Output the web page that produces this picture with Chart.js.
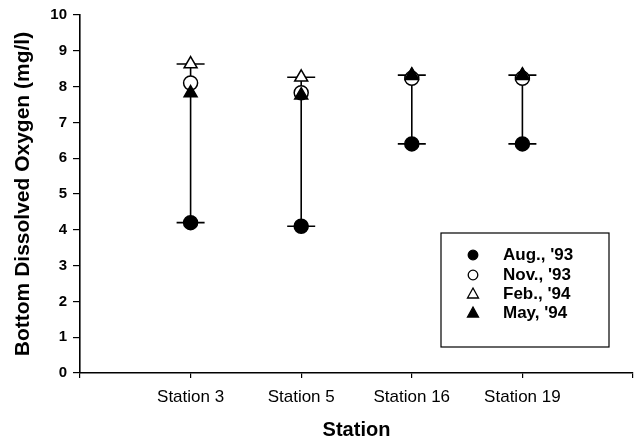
<!DOCTYPE html>
<html>
<head>
<meta charset="utf-8">
<script src="https://cdn.jsdelivr.net/npm/chart.js@4"></script>
<style>
html,body{margin:0;padding:0;background:#fff;}
#wrap{width:644px;height:442px;position:relative;}
</style>
</head>
<body>
<div id="wrap"><canvas id="c" width="644" height="442"></canvas></div>
<script>
const stations = ['', 'Station 3', 'Station 5', 'Station 16', 'Station 19', ''];
const seriesNames = ["Aug., '93", "Nov., '93", "Feb., '94", "May, '94"];
const aug93 = [null, 4.2, 4.1, 6.4, 6.4, null];
const nov93 = [null, 8.1, 7.83, 8.23, 8.23, null];
const feb94 = [null, 8.63, 8.26, 8.32, 8.32, null];
const may94 = [null, 7.82, 7.76, 8.3, 8.3, null];
const yTicks = [0, 1, 2, 3, 4, 5, 6, 7, 8, 9, 10];

const FONT = "'Liberation Sans', Arial, sans-serif";
const allSeries = [aug93, nov93, feb94, may94];
const styles = [
  {pointStyle: 'circle', bg: '#000', r: 7, order: 3},
  {pointStyle: 'circle', bg: '#fff', r: 7, order: 2},
  {pointStyle: 'triangle', bg: '#fff', r: 7.5, order: 1},
  {pointStyle: 'triangle', bg: '#000', r: 7.5, order: 0}
];

const hiLoPlugin = {
  id: 'hilo',
  beforeDatasetsDraw(chart) {
    const {ctx, scales: {x, y}} = chart;
    ctx.save();
    ctx.strokeStyle = '#000';
    ctx.lineWidth = 1.6;
    stations.forEach((s, i) => {
      const vals = allSeries.map(a => a[i]).filter(v => v !== null);
      if (!vals.length) return;
      const lo = Math.min(...vals), hi = Math.max(...vals);
      const px = x.getPixelForValue(i);
      const pl = y.getPixelForValue(lo), ph = y.getPixelForValue(hi);
      ctx.beginPath();
      ctx.moveTo(px, pl); ctx.lineTo(px, ph);
      ctx.moveTo(px - 14, pl); ctx.lineTo(px + 14, pl);
      ctx.moveTo(px - 14, ph); ctx.lineTo(px + 14, ph);
      ctx.stroke();
    });
    ctx.restore();
  }
};

const legendPlugin = {
  id: 'boxLegend',
  afterDraw(chart) {
    const ctx = chart.ctx;
    ctx.save();
    const bx = 441, by = 233, bw = 168, bh = 114;
    ctx.strokeStyle = '#000';
    ctx.lineWidth = 1.2;
    ctx.strokeRect(bx, by, bw, bh);
    const rows = [255, 275, 294, 313];
    seriesNames.forEach((name, i) => {
      const st = styles[i];
      ctx.fillStyle = st.bg; ctx.strokeStyle = '#000'; ctx.lineWidth = 1.3;
      ctx.beginPath();
      if (st.pointStyle === 'circle') {
        ctx.arc(473, rows[i], 4.8, 0, Math.PI * 2);
      } else {
        ctx.moveTo(473, rows[i] - 6);
        ctx.lineTo(478.5, rows[i] + 4);
        ctx.lineTo(467.5, rows[i] + 4);
        ctx.closePath();
      }
      ctx.fill(); ctx.stroke();
      ctx.fillStyle = '#000';
      ctx.font = 'bold 17px ' + FONT;
      ctx.textBaseline = 'middle';
      ctx.textAlign = 'left';
      ctx.fillText(name, 503, rows[i]);
    });
    ctx.restore();
  }
};

new Chart(document.getElementById('c'), {
  type: 'line',
  data: {
    labels: stations,
    datasets: allSeries.map((d, i) => ({
      label: seriesNames[i],
      data: d,
      showLine: false,
      pointStyle: styles[i].pointStyle,
      pointRadius: styles[i].r,
      pointHoverRadius: styles[i].r,
      pointBackgroundColor: styles[i].bg,
      pointBorderColor: '#000',
      pointBorderWidth: 1.5,
      order: styles[i].order
    }))
  },
  options: {
    responsive: false,
    animation: false,
    events: [],
    layout: {padding: {top: 15, right: 11, left: 0, bottom: 0}},
    plugins: {legend: {display: false}, tooltip: {enabled: false}},
    scales: {
      x: {
        type: 'category',
        offset: false,
        afterFit(s) { s.height = 69; },
        grid: {display: true, drawOnChartArea: false, drawTicks: true, tickLength: 5, color: '#000', lineWidth: 1.2},
        border: {display: true, color: '#000', width: 1.6},
        ticks: {color: '#000', font: {family: FONT, size: 17}, padding: 9, maxRotation: 0, autoSkip: false},
        title: {display: true, text: 'Station', color: '#000', font: {family: FONT, size: 20, weight: 'bold'}, padding: {top: 0, bottom: 0}}
      },
      y: {
        min: 0, max: 10,
        afterFit(s) { s.width = 80; },
        afterBuildTicks(s) { s.ticks = yTicks.map(v => ({value: v})); },
        grid: {display: true, drawOnChartArea: false, drawTicks: true, tickLength: 7, color: '#000', lineWidth: 1.2},
        border: {display: true, color: '#000', width: 1.6},
        ticks: {color: '#000', font: {family: FONT, size: 15, weight: 'bold'}, padding: 6},
        title: {display: true, text: 'Bottom Dissolved Oxygen (mg/l)', color: '#000', font: {family: FONT, size: 21, weight: 'bold'}, padding: {top: 11, bottom: 0}}
      }
    }
  },
  plugins: [hiLoPlugin, legendPlugin]
});
</script>
</body>
</html>
